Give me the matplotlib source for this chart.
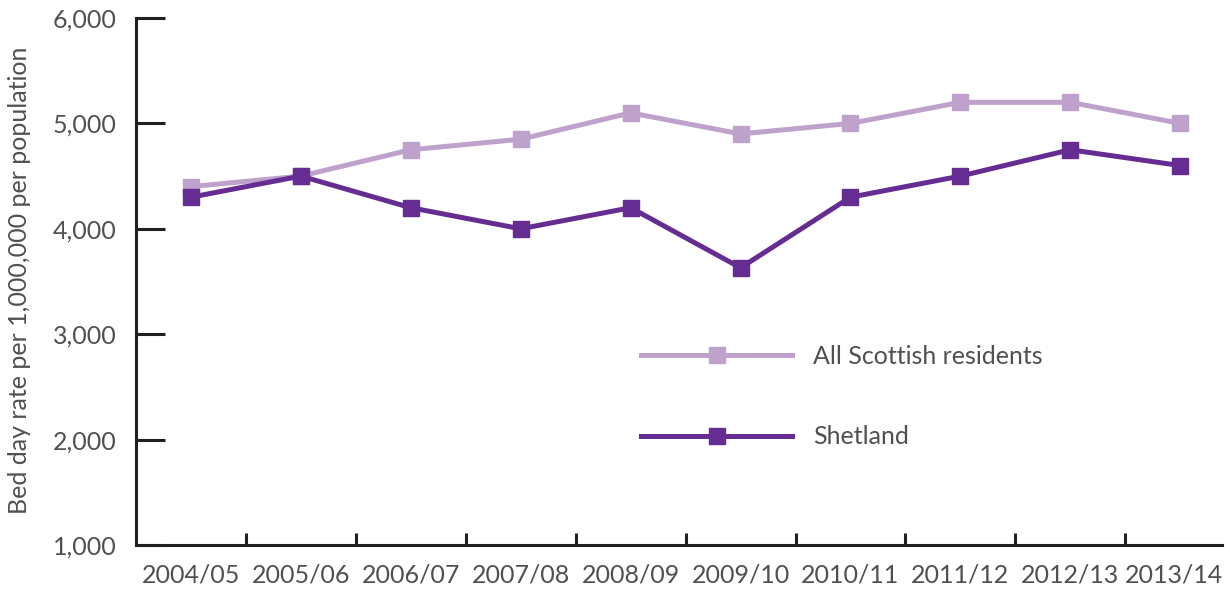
import matplotlib
matplotlib.use('Agg')
import matplotlib.pyplot as plt
import matplotlib.transforms as mtransforms
import numpy as np

plt.rcParams['font.family'] = ['Lato', 'DejaVu Sans']

years = ['2004/05', '2005/06', '2006/07', '2007/08', '2008/09',
         '2009/10', '2010/11', '2011/12', '2012/13', '2013/14']
scotland = [4400, 4500, 4750, 4850, 5100, 4900, 5000, 5200, 5200, 5000]
shetland = [4300, 4500, 4200, 4000, 4200, 3630, 4300, 4500, 4750, 4600]

light = '#BFA2CB'
dark = '#652D91'
txt = '#505050'
axc = '#231F20'

fig = plt.figure(figsize=(12.25, 5.91), dpi=100)
ax = fig.add_axes([136 / 1225, 1 - 545 / 591, (1222 - 136) / 1225, (545 - 18) / 591])

x = np.arange(len(years))
ax.plot(x, scotland, color=light, lw=3.6, marker='s', ms=12, label='All Scottish residents')
ax.plot(x, shetland, color=dark, lw=3.6, marker='s', ms=12, label='Shetland')

ax.set_xlim(-0.5, 9.38)
ax.set_ylim(1000, 6000)
ax.set_yticks(range(1000, 6001, 1000))
ax.set_yticklabels([f'{v:,}' for v in range(1000, 6001, 1000)])
ax.set_xticks(x)
ax.set_xticklabels(years)
ax.set_xticks(np.arange(0.5, 9, 1), minor=True)

for s in ['top', 'right']:
    ax.spines[s].set_visible(False)
for s in ['left', 'bottom']:
    ax.spines[s].set_linewidth(2.2)
    ax.spines[s].set_color(axc)

fs = 18
ax.tick_params(axis='y', direction='in', length=21, width=2.2, color=axc,
               pad=14, labelsize=fs, labelcolor=txt)
ax.tick_params(axis='x', which='major', length=0, pad=13, labelsize=fs, labelcolor=txt)
ax.tick_params(axis='x', which='minor', direction='in', length=8.6, width=2.2, color=axc)

# nudge the last year label left so it stays inside the figure
last = ax.get_xticklabels()[-1]
last.set_transform(last.get_transform() + mtransforms.ScaledTranslation(-6 / 100, 0, fig.dpi_scale_trans))

fig.text(20 / 1225, 1 - 280 / 591, 'Bed day rate per 1,000,000 per population',
         rotation=90, ha='center', va='center', fontsize=fs, color=txt)

ax.legend(loc='upper left', bbox_to_anchor=(641 / 1225, 1 - 345 / 591),
          bbox_transform=fig.transFigure, frameon=False, fontsize=fs,
          handlelength=6.05, handletextpad=0.82, labelspacing=2.3,
          borderpad=0, borderaxespad=0, labelcolor=txt)

fig.savefig('out.png', dpi=100)
